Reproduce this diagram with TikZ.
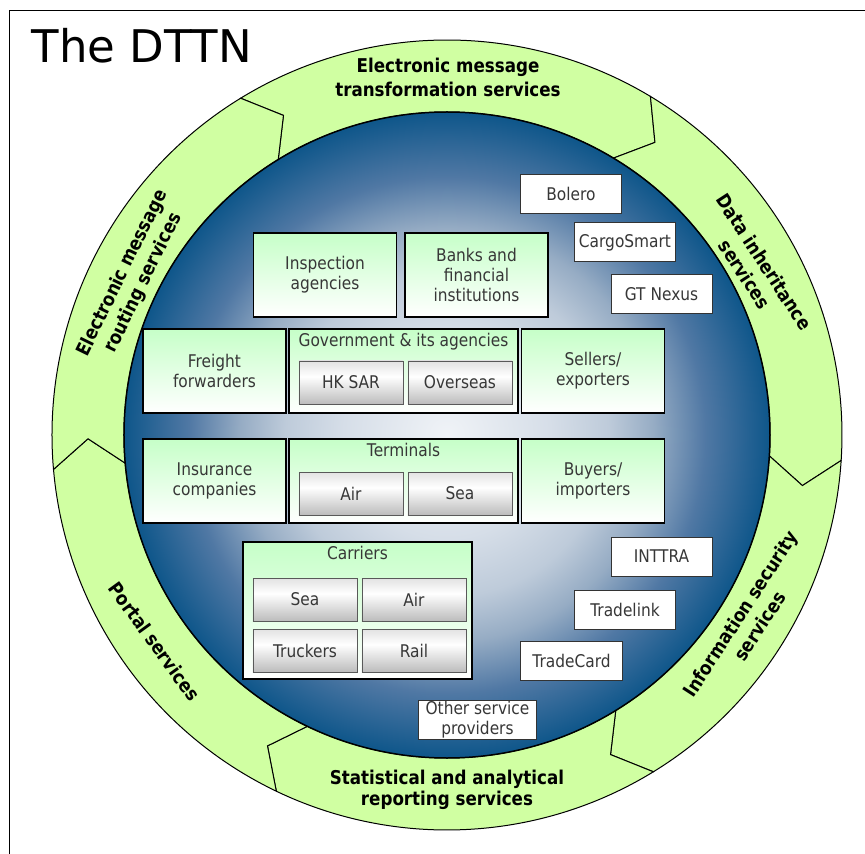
\documentclass[tikz,border=0pt]{standalone}
\usepackage{fontspec}
\setmainfont{DejaVu Sans}[FakeStretch=0.88]
\newfontfamily\titlefont{DejaVu Sans}
\usepackage{tikz}

\definecolor{ringgreen}{RGB}{208,255,162}
\definecolor{boxgreen}{RGB}{198,255,200}
\definecolor{textgray}{RGB}{55,55,55}
\definecolor{hubA}{RGB}{240,243,247}
\definecolor{hubB}{RGB}{214,222,232}
\definecolor{hubC}{RGB}{190,203,218}
\definecolor{hubD}{RGB}{150,172,196}
\definecolor{hubE}{RGB}{80,120,164}
\definecolor{hubF}{RGB}{14,86,138}
\definecolor{keytop}{RGB}{226,226,226}
\definecolor{keybot}{RGB}{188,188,188}

\pgfdeclareradialshading{hubshade}{\pgfpoint{0bp}{0bp}}{%
  color(0bp)=(hubA); color(8bp)=(hubB); color(12.5bp)=(hubC);
  color(16bp)=(hubD); color(20bp)=(hubE); color(25bp)=(hubF); color(50bp)=(hubF)}
\pgfdeclareverticalshading{keyshade}{100bp}{%
  color(0bp)=(keybot); color(25bp)=(keybot); color(57bp)=(white);
  color(75bp)=(keytop); color(100bp)=(keytop)}

\begin{document}
\begin{tikzpicture}[%
  x=1pt, y=1pt,
  every node/.style={font=\fontsize{17.5}{20}\selectfont, text=textgray, align=center},
  partybox/.style={draw=black, line width=1.3pt, top color=boxgreen, bottom color=white,
    minimum width=143pt, minimum height=84pt, inner sep=2pt},
  groupbox/.style={partybox, minimum width=229pt},
  subbox/.style={draw=black!65, line width=0.9pt, shade, shading=keyshade,
    minimum width=104pt, minimum height=43pt, inner sep=1pt},
  providerbox/.style={draw=black!80, line width=1pt, fill=white,
    minimum width=101pt, minimum height=39pt, inner sep=1pt},
  servicelabel/.style={font=\bfseries\fontsize{19}{23}\selectfont, text=black}
]

  \useasboundingbox (-447,-419) rectangle (418,435);
  \draw[line width=1pt] (-437,-419) -- (-437,424) -- (418,424);

  \node[anchor=base west, font=\titlefont\fontsize{45}{54}\selectfont, text=black]
    (title) at (-419,372) {The DTTN};

  \foreach \a/\b in {121.5/59, 59/-3.7, -3.7/-58.5, -58.5/-115.6, -115.6/-175, -175/-238.5}
    \filldraw[fill=ringgreen, line width=1pt]
      (\a:395) arc[start angle=\a, end angle=\b, radius=395]
      -- ({\b-4.4}:359) -- (\b:323)
      arc[start angle=\b, end angle=\a, radius=323]
      -- ({\a-4.4}:359) -- cycle;

  \shade[shading=hubshade] (0,0) circle[radius=323];
  \draw[line width=1.5pt] (0,0) circle[radius=323];

  \node[servicelabel, font=\bfseries\fontsize{19}{24}\selectfont] (transform) at (1,358)
    {Electronic message\\transformation services};
  \node[servicelabel, rotate=-57] (inherit) at (28.5:350) {Data inheritance\\services};
  \node[servicelabel, rotate=57] (security) at (-31.4:355) {Information security\\services};
  \node[servicelabel, font=\bfseries\fontsize{19}{21}\selectfont] (report) at (0,-355)
    {Statistical and analytical\\reporting services};
  \node[servicelabel, rotate=-54] (portal) at (-292.5,-206.5) {Portal services};
  \node[servicelabel, rotate=64] (routing) at (-314,157) {Electronic message\\routing services};

  \node[partybox] (inspect) at (-122,160) {Inspection\\agencies};
  \node[partybox] (banks) at (29.5,160) {Banks and\\financial\\institutions};

  \node[partybox] (freight) at (-232.5,64) {Freight\\forwarders};
  \node[groupbox] (govt) at (-43.5,64) {};
  \node (govtname) at (-43.5,93) {Government \& its agencies};
  \node[subbox] (hksar) at (-96,52.5) {HK SAR};
  \node[subbox] (overseas) at (13,52.5) {Overseas};
  \node[partybox] (sellers) at (146,64) {Sellers/\\exporters};

  \node[partybox] (insure) at (-232.5,-46) {Insurance\\companies};
  \node[groupbox] (terminals) at (-43.5,-46) {};
  \node (termname) at (-43.5,-15) {Terminals};
  \node[subbox] (termair) at (-96,-58.5) {Air};
  \node[subbox] (termsea) at (13,-58.5) {Sea};
  \node[partybox] (buyers) at (146,-46) {Buyers/\\importers};

  \node[groupbox, minimum height=137pt] (carriers) at (-89.5,-175.5) {};
  \node (carrname) at (-89.5,-118) {Carriers};
  \node[subbox] (carrsea) at (-142,-164.5) {Sea};
  \node[subbox] (carrair) at (-33,-164.5) {Air};
  \node[subbox] (truckers) at (-142,-215.5) {Truckers};
  \node[subbox] (rail) at (-33,-215.5) {Rail};

  \node[providerbox] (bolero) at (124,241) {Bolero};
  \node[providerbox] (cargosmart) at (178,192.5) {CargoSmart};
  \node[providerbox] (gtnexus) at (214.5,141) {GT Nexus};
  \node[providerbox] (inttra) at (214.5,-121.5) {INTTRA};
  \node[providerbox] (tradelink) at (178,-174.5) {Tradelink};
  \node[providerbox] (tradecard) at (124.5,-226) {TradeCard};
  \node[providerbox, minimum width=117pt] (others) at (30.5,-284.5) {Other service\\providers};

\end{tikzpicture}
\end{document}
